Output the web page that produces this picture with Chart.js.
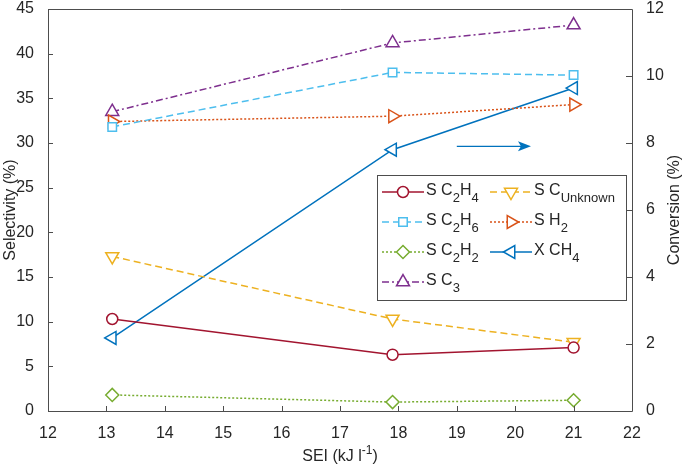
<!DOCTYPE html>
<html lang="en">
<head>
<meta charset="UTF-8">
<title>Selectivity and conversion vs SEI</title>
<script src="https://cdn.jsdelivr.net/npm/chart.js@4"></script>
<style>
  html, body { margin: 0; padding: 0; background: #fff; }
</style>
</head>
<body>
<canvas id="selChart" width="685" height="469"></canvas>
<script>
// data
var sei = [13.1, 17.9, 21.0];
var selC2H4 = [10.3, 6.3, 7.1];
var selCUnknown = [17.3, 10.3, 7.7];
var selC2H6 = [31.8, 37.9, 37.6];
var selH2 = [32.4, 33.0, 34.3];
var selC2H2 = [1.8, 1.0, 1.2];
var convCH4 = [2.18, 7.8, 9.64];
var selC3 = [33.5, 41.2, 43.2];

var xTicks = [12, 13, 14, 15, 16, 17, 18, 19, 20, 21, 22];
var selTicks = [0, 5, 10, 15, 20, 25, 30, 35, 40, 45];
var convTicks = [0, 2, 4, 6, 8, 10, 12];

// arrow pointing to the conversion axis (x in SEI, y in conversion %)
var arrowX = [19.0, 20.27];
var arrowY = 7.9;

// legend text as [text, isSubscript] pieces, row-major in two columns
var legendParts = [
    [['S C', 0], ['2', 1], ['H', 0], ['4', 1]],
    [['S C', 0], ['Unknown', 1]],
    [['S C', 0], ['2', 1], ['H', 0], ['6', 1]],
    [['S H', 0], ['2', 1]],
    [['S C', 0], ['2', 1], ['H', 0], ['2', 1]],
    [['X CH', 0], ['4', 1]],
    [['S C', 0], ['3', 1]]
];

var FONT = '"Liberation Sans", Arial, Helvetica, sans-serif';
var axisColor = '#4d4d4d';
var textColor = '#262626';

function pts(ys) {
    return sei.map(function(x, i) { return { x: x, y: ys[i] }; });
}

function series(label, ys, color, dash, style, rot, radius, axis) {
    return {
        label: label,
        data: pts(ys),
        yAxisID: axis || 'y',
        borderColor: color,
        borderWidth: 1.5,
        borderDash: dash,
        pointStyle: style,
        pointRotation: rot,
        pointRadius: radius,
        pointBorderWidth: 1.5,
        pointBorderColor: color,
        pointBackgroundColor: '#fff',
        tension: 0
    };
}

var datasets = [
    series('S C2H4', selC2H4, '#A2142F', [], 'circle', 0, 5.5),
    series('S CUnknown', selCUnknown, '#EDB120', [7, 4], 'triangle', 180, 7.5),
    series('S C2H6', selC2H6, '#4DBEEE', [7, 4], 'rect', 0, 6),
    series('S H2', selH2, '#D95319', [2, 2], 'triangle', 90, 7.5),
    series('S C2H2', selC2H2, '#77AC30', [2, 2], 'rectRot', 0, 6.5),
    series('X CH4', convCH4, '#0072BD', [], 'triangle', 270, 7.5, 'y1'),
    series('S C3', selC3, '#7E2F8E', [7, 3, 2, 3], 'triangle', 0, 7.5)
];

function drawPieces(ctx, parts, x, y) {
    parts.forEach(function(p) {
        if (p[1]) {
            ctx.font = '13px ' + FONT;
            ctx.fillText(p[0], x, y + 7);
        } else {
            ctx.font = '16px ' + FONT;
            ctx.fillText(p[0], x, y);
        }
        x += ctx.measureText(p[0]).width;
    });
}

var deco = {
    id: 'deco',
    afterDraw: function(chart) {
        var ctx = chart.ctx, a = chart.chartArea;
        var sx = chart.scales.x, sy = chart.scales.y, sy1 = chart.scales.y1;
        ctx.save();

        // frame and inward ticks
        ctx.strokeStyle = axisColor;
        ctx.lineWidth = 1;
        ctx.beginPath();
        ctx.rect(Math.round(a.left) + 0.5, Math.round(a.top) + 0.5,
                 Math.round(a.right - a.left), Math.round(a.bottom - a.top));
        xTicks.forEach(function(v) {
            var px = Math.round(sx.getPixelForValue(v)) + 0.5;
            ctx.moveTo(px, a.bottom); ctx.lineTo(px, a.bottom - 5);
        });
        selTicks.forEach(function(v) {
            var py = Math.round(sy.getPixelForValue(v)) + 0.5;
            ctx.moveTo(a.left, py); ctx.lineTo(a.left + 5, py);
        });
        convTicks.forEach(function(v) {
            var py = Math.round(sy1.getPixelForValue(v)) + 0.5;
            ctx.moveTo(a.right, py); ctx.lineTo(a.right - 6, py);
        });
        ctx.stroke();

        // arrow
        var x0 = sx.getPixelForValue(arrowX[0]);
        var x1 = sx.getPixelForValue(arrowX[1]);
        var ay = sy1.getPixelForValue(arrowY);
        ctx.strokeStyle = '#0072BD';
        ctx.fillStyle = '#0072BD';
        ctx.lineWidth = 1.3;
        ctx.beginPath();
        ctx.moveTo(x0, ay); ctx.lineTo(x1 - 8, ay);
        ctx.stroke();
        ctx.beginPath();
        ctx.moveTo(x1, ay);
        ctx.lineTo(x1 - 13, ay - 5);
        ctx.lineTo(x1 - 10, ay);
        ctx.lineTo(x1 - 13, ay + 5);
        ctx.closePath();
        ctx.fill();

        // x axis title with superscript
        ctx.fillStyle = textColor;
        ctx.textBaseline = 'middle';
        ctx.font = '16px ' + FONT;
        var t1 = 'SEI (kJ l', t2 = '-1', t3 = ')';
        var w1 = ctx.measureText(t1).width, w3 = ctx.measureText(t3).width;
        ctx.font = '12px ' + FONT;
        var w2 = ctx.measureText(t2).width;
        var tx = (a.left + a.right) / 2 - (w1 + w2 + w3) / 2;
        var ty = 457;
        ctx.font = '16px ' + FONT;
        ctx.textAlign = 'left';
        ctx.fillText(t1, tx, ty);
        ctx.font = '12px ' + FONT;
        ctx.fillText(t2, tx + w1, ty - 6);
        ctx.font = '16px ' + FONT;
        ctx.fillText(t3, tx + w1 + w2, ty);

        // right axis title, reading bottom to top
        ctx.save();
        ctx.translate(675, (a.top + a.bottom) / 2);
        ctx.rotate(-Math.PI / 2);
        ctx.textAlign = 'center';
        ctx.fillText('Conversion (%)', 0, 0);
        ctx.restore();

        // legend
        var bx = 377, by = 175, bw = 249, bh = 125;
        ctx.fillStyle = '#fff';
        ctx.fillRect(bx, by, bw, bh);
        ctx.strokeStyle = axisColor;
        ctx.lineWidth = 1;
        ctx.strokeRect(bx + 0.5, by + 0.5, bw, bh);
        var colX = [382, 490], rowY = [192, 222, 252, 282];
        ctx.textAlign = 'left';
        datasets.forEach(function(ds, i) {
            var lx = colX[i % 2], ly = rowY[Math.floor(i / 2)];
            ctx.strokeStyle = ds.borderColor;
            ctx.lineWidth = 1.5;
            ctx.setLineDash(ds.borderDash);
            ctx.beginPath();
            ctx.moveTo(lx, ly); ctx.lineTo(lx + 42, ly);
            ctx.stroke();
            ctx.setLineDash([]);
            ctx.fillStyle = '#fff';
            Chart.helpers.drawPoint(ctx, {
                pointStyle: ds.pointStyle,
                rotation: ds.pointRotation,
                radius: ds.pointRadius,
                borderWidth: 1.5
            }, lx + 21, ly);
            ctx.fillStyle = textColor;
            ctx.textBaseline = 'middle';
            drawPieces(ctx, legendParts[i], lx + 44, ly - 1);
        });
        ctx.restore();
    }
};

var tickFont = { family: FONT, size: 16 };

new Chart(document.getElementById('selChart').getContext('2d'), {
    type: 'line',
    data: { datasets: datasets },
    options: {
        responsive: false,
        animation: false,
        devicePixelRatio: 1,
        layout: { padding: { top: 5, left: 0, right: 0, bottom: 0 } },
        plugins: { legend: { display: false }, tooltip: { enabled: false } },
        scales: {
            x: {
                type: 'linear',
                min: xTicks[0],
                max: xTicks[xTicks.length - 1],
                afterBuildTicks: function(s) { s.ticks = xTicks.map(function(v) { return { value: v }; }); },
                grid: { display: false },
                border: { display: false },
                ticks: { font: tickFont, color: textColor, padding: 5, maxRotation: 0 },
                afterFit: function(s) { s.height = 58; s.paddingLeft = 0; s.paddingRight = 0; }
            },
            y: {
                position: 'left',
                min: selTicks[0],
                max: selTicks[selTicks.length - 1],
                afterBuildTicks: function(s) { s.ticks = selTicks.map(function(v) { return { value: v }; }); },
                grid: { display: false },
                border: { display: false },
                ticks: { font: tickFont, color: textColor, padding: 6 },
                title: { display: true, text: 'Selectivity (%)', font: tickFont, color: textColor, padding: { top: 1 } },
                afterFit: function(s) { s.width = 48; s.paddingTop = 0; s.paddingBottom = 0; }
            },
            y1: {
                position: 'right',
                min: convTicks[0],
                max: convTicks[convTicks.length - 1],
                afterBuildTicks: function(s) { s.ticks = convTicks.map(function(v) { return { value: v }; }); },
                grid: { display: false },
                border: { display: false },
                ticks: { font: tickFont, color: textColor, padding: 6 },
                afterFit: function(s) { s.width = 53; s.paddingTop = 0; s.paddingBottom = 0; }
            }
        }
    },
    plugins: [deco]
});
</script>
</body>
</html>
